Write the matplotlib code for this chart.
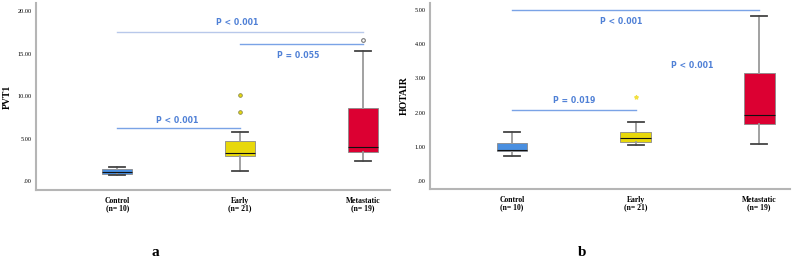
import matplotlib
matplotlib.use("Agg")
import matplotlib.pyplot as plt

groups = ["Control\n(n= 10)", "Early\n(n= 21)", "Metastatic\n(n= 19)"]
box_colors = ["#4a8fe0", "#e8d80a", "#dc0032"]

# PVT1 box statistics
pvt1_lo = [0.70, 1.18, 2.35]
pvt1_q1 = [0.78, 2.94, 3.41]
pvt1_med = [1.05, 3.26, 3.96]
pvt1_q3 = [1.36, 4.74, 8.62]
pvt1_hi = [1.62, 5.73, 15.26]
pvt1_out = [[], [8.15, 10.15], [16.6]]

# HOTAIR box statistics
hot_lo = [0.73, 1.04, 1.08]
hot_q1 = [0.89, 1.14, 1.66]
hot_med = [0.90, 1.27, 1.93]
hot_q3 = [1.12, 1.44, 3.15]
hot_hi = [1.43, 1.73, 4.82]
hot_out = [[], [2.45], []]

pvt1_ticks = [0, 5, 10, 15, 20]
hot_ticks = [0, 1, 2, 3, 4, 5]

# comparisons: (x0, x1, line y, label, label x, label y, line colour)
pvt1_sig = [(0, 2, 17.56, "P < 0.001", 0.98, 18.7, "#b8c8ea"),
            (1, 2, 16.08, "P = 0.055", 1.47, 14.74, "#7aa3e6"),
            (0, 1, 6.3, "P < 0.001", 0.49, 7.18, "#7aa3e6")]
hot_sig = [(0, 2, 5.0, "P < 0.001", 0.88, 4.66, "#7aa3e6"),
           (None, None, None, "P < 0.001", 1.46, 3.37, None),
           (0, 1, 2.08, "P = 0.019", 0.5, 2.35, "#7aa3e6")]

serif = ["Liberation Serif", "DejaVu Serif"]

fig = plt.figure(figsize=(7.93, 2.6), dpi=100)
ax1 = fig.add_axes([0.0454, 0.269, 0.4464, 0.719])
ax2 = fig.add_axes([0.5422, 0.273, 0.454, 0.715])


def draw(ax, lo, q1, med, q3, hi, out, ticks, ylim, xlim, ylabel, sig, star):
    stats = []
    for i in range(3):
        stats.append(dict(whislo=lo[i], q1=q1[i], med=med[i], q3=q3[i],
                          whishi=hi[i], fliers=out[i]))
    bp = ax.bxp(stats, positions=[0, 1, 2], widths=0.25, patch_artist=True,
                showfliers=False,
                boxprops=dict(edgecolor="#8a8a8a", linewidth=0.6),
                medianprops=dict(color="#111111", linewidth=0.8),
                whiskerprops=dict(color="#9a9a9a", linewidth=1.3),
                capprops=dict(color="#444444", linewidth=1.3),
                capwidths=0.13)
    for patch, c in zip(bp["boxes"], box_colors):
        patch.set_facecolor(c)
    for i, vals in enumerate(out):
        if not vals:
            continue
        if star:
            ax.scatter([i] * len(vals), vals, marker="*", s=7,
                       color="#f2e040", zorder=3)
        elif i == 2:
            ax.scatter([i] * len(vals), vals, s=7, facecolor="white",
                       edgecolor="#777777", linewidth=0.8, zorder=3)
        else:
            ax.scatter([i] * len(vals), vals, s=7, facecolor="#e8d80a",
                       edgecolor="#8a8a50", linewidth=0.6, zorder=3)
    for x0, x1, y, txt, tx, ty, lc in sig:
        if x0 is not None:
            ax.plot([x0, x1], [y, y], color=lc, linewidth=1.0)
        ax.text(tx, ty, txt, color="#4f80d6", fontsize=5.6, fontweight="bold",
                ha="center", va="center")
    ax.set_xlim(xlim)
    ax.set_ylim(ylim)
    ax.set_xticks([0, 1, 2])
    ax.set_xticklabels(groups, family=serif, fontsize=5.5, fontweight="bold",
                       linespacing=0.9)
    ax.set_yticks(ticks)
    ax.set_yticklabels([("%.2f" % t).lstrip("0") if t == 0 else "%.2f" % t
                        for t in ticks], family=serif, fontsize=4.5)
    ax.tick_params(length=0, pad=3)
    ax.tick_params(axis="x", pad=5)
    for s in ["top", "right"]:
        ax.spines[s].set_visible(False)
    for s in ["left", "bottom"]:
        ax.spines[s].set_color("#b5b5b5")
        ax.spines[s].set_linewidth(1.5)
    ax.set_ylabel(ylabel, family=serif, fontsize=7, fontweight="bold",
                  labelpad=4)


draw(ax1, pvt1_lo, pvt1_q1, pvt1_med, pvt1_q3, pvt1_hi, pvt1_out,
     pvt1_ticks, (-1.06, 20.94), (-0.66, 2.22), "PVT1", pvt1_sig, False)
draw(ax2, hot_lo, hot_q1, hot_med, hot_q3, hot_hi, hot_out,
     hot_ticks, (-0.234, 5.2), (-0.664, 2.25), "HOTAIR", hot_sig, True)

fig.text(155 / 793, 1 - 252 / 260, "a", family=serif, fontsize=11,
         fontweight="bold", ha="center", va="center")
fig.text(582 / 793, 1 - 252 / 260, "b", family=serif, fontsize=11,
         fontweight="bold", ha="center", va="center")

fig.savefig("out.png", dpi=100)
